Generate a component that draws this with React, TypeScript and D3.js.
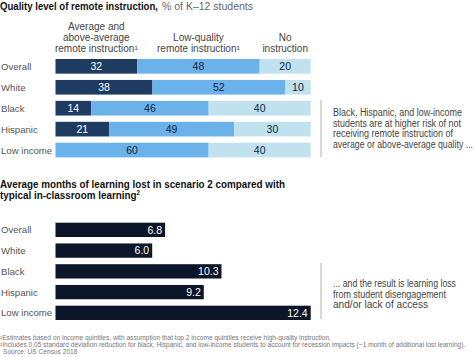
import React from "react";
import * as d3 from "d3";

const groups = ["Overall", "White", "Black", "Hispanic", "Low income"];
const aboveAvg = [32, 38, 14, 21, 0];
const lowQuality = [48, 52, 46, 49, 60];
const noInstruction = [20, 10, 40, 30, 40];
const monthsLost = [6.8, 6.0, 10.3, 9.2, 12.4];

const topNote = ["Black, Hispanic, and low-income", "students are at higher risk of not", "receiving remote instruction of", "average or above-average quality ..."];
const topNoteW = [129, 128, 120, 140];
const botNote = ["... and the result is learning loss", "from student disengagement", "and/or lack of access"];
const botNoteW = [123, 113, 95];

const segColors = ["#1e3b62", "#6cb2ea", "#c0e1ee"];
const segText = ["#ffffff", "#0d1f3a", "#0d1f3a"];
const darkBar = "#0b1628";
const FONT = "'Liberation Sans', Arial, sans-serif";

export default function App() {
  const W = 474, H = 357;
  const x0 = 55.5, x1 = 310.7;
  const xPct = d3.scaleLinear().domain([0, 100]).range([x0, x1]);
  const yTop = d3.scaleBand<string>().domain(groups).range([59, 157.4]).paddingInner(0.3).paddingOuter(0);
  const yBot = d3.scaleBand<string>().domain(groups).range([222.7, 320]).paddingInner(0.31).paddingOuter(0);
  const xMonths = d3.scaleLinear().domain([0, 10.3, 12.4]).range([x0, x0 + 166, x1]);

  const series = [aboveAvg, lowQuality, noInstruction];
  const stacked = groups.map((g, i) => {
    let acc = 0;
    return series.map((s, k) => {
      const start = acc;
      acc += s[i];
      return { k, v: s[i], start, end: acc };
    });
  });

  const hdrCenters = stacked[0].map((d) => (xPct(d.start) + xPct(d.end)) / 2);
  const headers = [
    ["Average and", "above-average", "remote instruction¹"],
    ["Low-quality", "remote instruction¹"],
    ["No", "instruction"],
  ];

  return (
    <svg width={W} height={H} style={{ position: "absolute", left: 0, top: 0, background: "#fff" }} fontFamily={FONT}>
      <text x={0} y={10} fontSize={11.5} fontWeight="bold" fill="#111" textLength={158} lengthAdjust="spacingAndGlyphs">Quality level of remote instruction,</text>
      <text x={162} y={10} fontSize={11.5} fill="#666" textLength={91} lengthAdjust="spacingAndGlyphs">% of K–12 students</text>

      {headers.map((lines, k) =>
        lines.map((t, j) => (
          <text key={`h${k}${j}`} x={hdrCenters[k]} y={52 - (lines.length - 1 - j) * 11} fontSize={10} fill="#444" textAnchor="middle">
            {t}
          </text>
        ))
      )}

      {groups.map((g, i) => (
        <g key={`t${g}`}>
          <text x={1} y={(yTop(g) as number) + yTop.bandwidth() / 2 + 3.5} fontSize={9.6} fill="#555">{g}</text>
          {stacked[i].filter((d) => d.v > 0).map((d) => (
            <g key={d.k}>
              <rect x={xPct(d.start)} y={yTop(g)} width={xPct(d.end) - xPct(d.start)} height={yTop.bandwidth()} fill={segColors[d.k]} />
              <text x={(xPct(d.start) + xPct(d.end)) / 2} y={(yTop(g) as number) + yTop.bandwidth() / 2 + 3.8} fontSize={10.5} fill={segText[d.k]} textAnchor="middle">{d.v}</text>
            </g>
          ))}
        </g>
      ))}

      <line x1={321} x2={321} y1={100} y2={157} stroke="#b0b0b0" strokeWidth={1} />
      {topNote.map((t, j) => (
        <text key={`a${j}`} x={333} y={116 + j * 10.6} fontSize={10} fill="#444" textLength={topNoteW[j]} lengthAdjust="spacingAndGlyphs">{t}</text>
      ))}

      <text x={0} y={187.5} fontSize={10.5} fontWeight="bold" fill="#111" textLength={285} lengthAdjust="spacingAndGlyphs">Average months of learning lost in scenario 2 compared with</text>
      <text x={0} y={198.5} fontSize={10.5} fontWeight="bold" fill="#111" textLength={140} lengthAdjust="spacingAndGlyphs">typical in-classroom learning<tspan fontSize={6.5} dy={-4}>2</tspan></text>

      {groups.map((g, i) => (
        <g key={`b${g}`}>
          <text x={1} y={(yBot(g) as number) + yBot.bandwidth() / 2 + 3.5} fontSize={9.6} fill="#555">{g}</text>
          <rect x={x0} y={yBot(g)} width={xMonths(monthsLost[i]) - x0} height={yBot.bandwidth()} fill={darkBar} />
          <text x={xMonths(monthsLost[i]) - 3} y={(yBot(g) as number) + yBot.bandwidth() / 2 + 3.8} fontSize={10.5} fill="#fff" textAnchor="end">{monthsLost[i].toFixed(1)}</text>
        </g>
      ))}

      <line x1={321} x2={321} y1={263} y2={319} stroke="#b0b0b0" strokeWidth={1} />
      {botNote.map((t, j) => (
        <text key={`c${j}`} x={333} y={287 + j * 10.6} fontSize={10} fill="#444" textLength={botNoteW[j]} lengthAdjust="spacingAndGlyphs">{t}</text>
      ))}

      <text x={0} y={340} fontSize={6.6} fill="#777">¹Estimates based on income quintiles, with assumption that top 2 income quintiles receive high-quality instruction.</text>
      <text x={0} y={347} fontSize={6.6} fill="#777">²Includes 0.05 standard deviation reduction for black, Hispanic, and low-income students to account for recession impacts (~1 month of additional lost learning).</text>
      <text x={3} y={354} fontSize={6.6} fill="#777">Source: US Census 2018</text>
    </svg>
  );
}
